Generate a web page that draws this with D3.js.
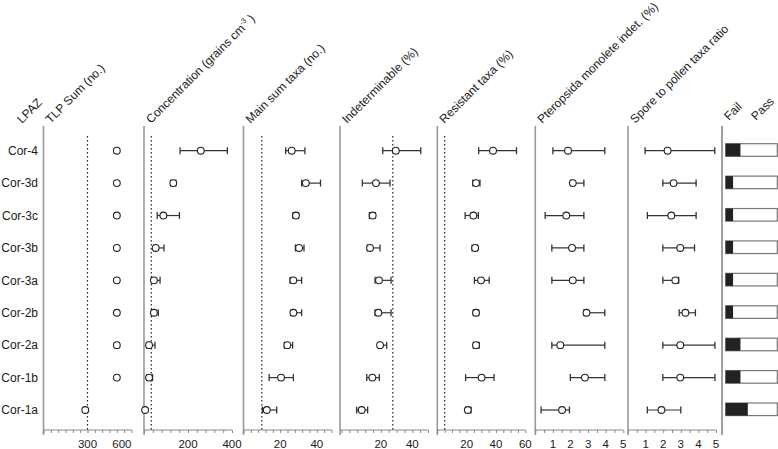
<!DOCTYPE html>
<html><head><meta charset="utf-8">
<script src="https://cdn.jsdelivr.net/npm/d3@7"></script>
<style>
html,body{margin:0;padding:0;background:#fff;}
text{font-family:"Liberation Sans",Arial,sans-serif;fill:#1a1a1a;}
</style></head>
<body>
<svg id="c" width="778" height="449"></svg>
<script>
// ---- data ----
const rows = ["Cor-4","Cor-3d","Cor-3c","Cor-3b","Cor-3a","Cor-2b","Cor-2a","Cor-1b","Cor-1a"];

const tlpSum = [500,500,500,500,500,500,500,500,285];

const concMean = [258,133,88,53,45,45,23,23,5];
const concLow  = [164,121,60,45,35,35,12,12,1];
const concHigh = [379,145,161,91,73,65,50,39,10];

const mainMean = [26.3,34,28.6,30.3,27.2,27.2,23.9,20.5,12.7];
const mainLow  = [23,31.7,27,28.3,25.4,26,22.3,14,10.3];
const mainHigh = [33.5,42,30,33,31.7,31.7,26.8,27.2,18.1];

const indetMean = [29.5,16.9,14.8,13.1,18.8,18.4,19.5,14.6,7.8];
const indetLow  = [21.2,8.2,12.7,11.4,16.3,16.3,18.4,11.0,4.6];
const indetHigh = [45.4,25.8,16.3,19.5,26.5,26.5,23.7,19.0,11.6];

const resMean = [38,26.4,24.6,25.8,29.8,26.4,26.4,30.2,20.8];
const resLow  = [28.2,24.2,19,23.7,25.3,24.6,24.6,19.3,19.3];
const resHigh = [54,29.1,28,27.5,35.4,28.2,28.6,38.7,23];

const pterMean = [1.86,2.13,1.76,2.09,2.13,2.91,1.42,2.82,1.52];
const pterLow  = [1.0,2.0,0.56,0.94,0.94,2.76,0.94,1.99,0.33];
const pterHigh = [3.95,2.76,2.76,2.76,2.76,3.95,3.95,3.95,1.94];

const sporeMean = [2.25,2.59,2.46,2.97,2.69,3.26,2.97,2.97,1.9];
const sporeLow  = [0.97,1.98,1.1,1.98,1.98,2.91,1.98,1.98,1.1];
const sporeHigh = [4.93,3.87,3.87,3.78,2.88,3.83,4.94,4.94,3.0];

const failCount = [2,1,1,1,1,1,2,2,3];
const criteriaTotal = 7;

const tlpTicks = [300,600];
const concTicks = [200,400];
const mainTicks = [20,40];
const indetTicks = [20,40];
const resTicks = [20,40,60];
const pterTicks = [1,2,3,4,5];
const sporeTicks = [1,2,3,4,5];

const thresholds = {tlp:300, conc:33, main:10, indet:27.6, res:5};

// ---- layout ----
const svg = d3.select("#c");
const axisY = 430, topY = 126, panelW = 88;
const y = d3.scalePoint().domain(rows).range([150.7, 410]);

const panels = [
  {key:"tlp", title:"TLP Sum (no.)", left:43.5, domain:[0,600], step:50, ticks:tlpTicks, mean:tlpSum, thr:thresholds.tlp, lastEnd:true},
  {key:"conc", title:"Concentration (grains cm", sup:true, left:144, domain:[0,400], step:40, ticks:concTicks, mean:concMean, low:concLow, high:concHigh, thr:thresholds.conc},
  {key:"main", title:"Main sum taxa (no.)", left:243.5, domain:[0,48], step:4, ticks:mainTicks, mean:mainMean, low:mainLow, high:mainHigh, thr:thresholds.main},
  {key:"indet", title:"Indeterminable (%)", left:340, domain:[-6,50], step:5, ticks:indetTicks, mean:indetMean, low:indetLow, high:indetHigh, thr:thresholds.indet},
  {key:"res", title:"Resistant taxa (%)", left:437.3, domain:[0,60], step:5, ticks:resTicks, mean:resMean, low:resLow, high:resHigh, thr:thresholds.res},
  {key:"pter", title:"Pteropsida monolete indet. (%)", left:535.3, domain:[0,5], step:0.5, ticks:pterTicks, mean:pterMean, low:pterLow, high:pterHigh},
  {key:"spore", title:"Spore to pollen taxa ratio", left:628, domain:[0,5], step:0.5, ticks:sporeTicks, mean:sporeMean, low:sporeLow, high:sporeHigh}
];

const titleSize = 12;

// LPAZ header and row labels
svg.append("text").attr("transform","translate(22,124) rotate(-45)")
  .attr("font-size",titleSize).text("LPAZ");
svg.selectAll("text.row").data(rows).enter().append("text")
  .attr("class","row").attr("x",38).attr("y",d=>y(d)+4.3)
  .attr("text-anchor","end").attr("font-size",12).text(d=>d);

panels.forEach(p=>{
  const x = d3.scaleLinear().domain(p.domain).range([p.left, p.left+panelW]);
  const g = svg.append("g");
  // left vertical line
  g.append("line").attr("x1",p.left).attr("x2",p.left).attr("y1",topY).attr("y2",axisY+5)
    .attr("stroke","#9a9a9a").attr("stroke-width",1.6);
  // x axis with minor ticks
  const start = Math.ceil(p.domain[0]/p.step)*p.step;
  const minor = d3.range(start, p.domain[1]+p.step/2, p.step);
  const ax = d3.axisBottom(x).tickValues(minor).tickSize(3).tickFormat("");
  const ag = g.append("g").attr("transform",`translate(0,${axisY})`).call(ax);
  ag.select(".domain").attr("stroke","#888").attr("stroke-width",1.2).attr("d",`M${p.left},0H${p.left+panelW}`);
  ag.selectAll(".tick line").attr("stroke","#888");
  p.ticks.forEach((t,i)=>{
    const last = i===p.ticks.length-1;
    g.append("text").attr("x", x(t)).attr("y", axisY+17.5)
      .attr("text-anchor", (p.lastEnd && last) ? "end" : "middle")
      .attr("font-size",11.5).text(t);
  });
  // threshold
  if (p.thr !== undefined) {
    g.append("line").attr("x1",x(p.thr)).attr("x2",x(p.thr)).attr("y1",136).attr("y2",axisY)
      .attr("stroke","#222").attr("stroke-width",1.2).attr("stroke-dasharray","1.5,2.5");
  }
  // error bars
  if (p.low) {
    rows.forEach((r,i)=>{
      const yy = y(r);
      g.append("line").attr("x1",x(p.low[i])).attr("x2",x(p.high[i])).attr("y1",yy).attr("y2",yy)
        .attr("stroke","#333").attr("stroke-width",1.2);
      [p.low[i],p.high[i]].forEach(v=>{
        g.append("line").attr("x1",x(v)).attr("x2",x(v)).attr("y1",yy-3.5).attr("y2",yy+3.5)
          .attr("stroke","#333").attr("stroke-width",1.3);
      });
    });
  }
  // points
  g.selectAll("circle").data(p.mean).enter().append("circle")
    .attr("cx",d=>x(d)).attr("cy",(d,i)=>y(rows[i])).attr("r",3.4)
    .attr("fill","#fff").attr("stroke","#222").attr("stroke-width",1.1);
  // title
  const t = svg.append("text").attr("transform",`translate(${p.left+7},124) rotate(-45)`).attr("font-size",titleSize);
  t.append("tspan").text(p.title);
  if (p.sup) {
    t.append("tspan").attr("font-size",7.5).attr("dy",-5).text("-3");
    t.append("tspan").attr("dy",5).text(" )");
  }
});

// Fail / Pass panel
const fx0 = 725.7, fw = 51.6;
const fx = d3.scaleLinear().domain([0,criteriaTotal]).range([fx0, fx0+fw]);
svg.append("line").attr("x1",722).attr("x2",722).attr("y1",topY).attr("y2",axisY+5)
  .attr("stroke","#777").attr("stroke-width",1.4);
svg.append("text").attr("transform","translate(729,121) rotate(-45)").attr("font-size",titleSize).text("Fail");
svg.append("text").attr("transform","translate(756,121) rotate(-45)").attr("font-size",titleSize).text("Pass");
rows.forEach((r,i)=>{
  const yy = y(r);
  svg.append("rect").attr("x",fx(0)).attr("y",yy-7).attr("width",fx(criteriaTotal)-fx(0)).attr("height",12.6)
    .attr("fill","#fff").attr("stroke","#777").attr("stroke-width",1.2);
  svg.append("rect").attr("x",fx(0)).attr("y",yy-7).attr("width",fx(failCount[i])-fx(0)).attr("height",12.6)
    .attr("fill","#222");
});
</script>
</body></html>
